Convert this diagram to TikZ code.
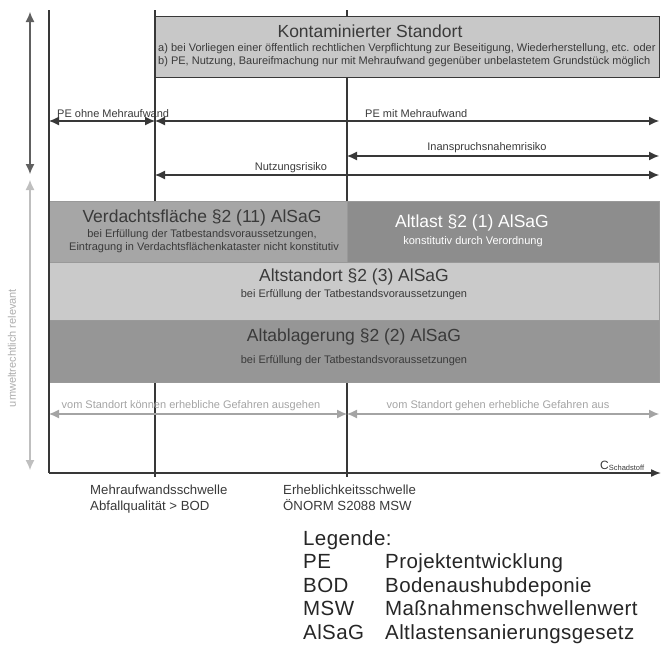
\documentclass[tikz,border=0pt]{standalone}
\usepackage{fontspec}
\setmainfont{Liberation Sans}
\usepackage{tikz}
\usetikzlibrary{positioning, arrows.meta}
\definecolor{linegray}{HTML}{383838}
\definecolor{textgray}{HTML}{3A3A3A}
\definecolor{palegray}{HTML}{A4A4A4}
\definecolor{kontgray}{HTML}{C8C8C8}
\definecolor{verdachtgray}{HTML}{A6A6A6}
\definecolor{altlastgray}{HTML}{8D8D8D}
\definecolor{standortgray}{HTML}{CACACA}
\definecolor{ablagerunggray}{HTML}{969696}
\tikzset{
	sep/.style={linegray, line width=1.2pt},
	axis/.style={linegray, line width=1.5pt},
	spanarrow/.style={linegray, line width=1.1pt, {Latex[length=10pt,width=9pt]}-{Latex[length=10pt,width=9pt]}},
	palespan/.style={palegray, line width=1.1pt, {Latex[length=10pt,width=9pt]}-{Latex[length=10pt,width=9pt]}},
	kbox/.style={draw=linegray, line width=1.2pt, fill=kontgray, anchor=north west, inner sep=0pt},
	row/.style={draw=gray!80, line width=.5pt, anchor=north west, inner sep=0pt},
	titletext/.style={textgray, inner sep=0pt, font={\fontsize{17.5}{20}\selectfont}},
	subtext/.style={textgray, inner sep=0pt, font={\fontsize{11}{13}\selectfont}},
	spantext/.style={textgray, inner sep=0pt, font={\fontsize{11}{13}\selectfont}},
	paletext/.style={palegray, inner sep=0pt, font={\fontsize{11}{13}\selectfont}},
	threshold/.style={textgray, inner sep=0pt, anchor=north west, align=left, font={\fontsize{13.2}{15.5}\selectfont}},
	legend/.style={black!85, inner sep=0pt, anchor=base west, font={\fontsize{20.5}{23}\selectfont\addfontfeatures{LetterSpace=2}}}
}

\begin{document}
\begin{tikzpicture}[x=1pt,y=-1pt]
\useasboundingbox (0,0) rectangle (661,646);
\coordinate (origin) at (49,473);
\coordinate (xend) at (661,473);
\coordinate (ytop) at (49,10);
\coordinate (mehrTop) at (155,10);
\coordinate (mehrBot) at (155,477);
\coordinate (erhTop) at (347,10);
\coordinate (erhBot) at (347,477);
\draw[sep] (mehrTop) -- (mehrBot);
\draw[sep] (erhTop) -- (erhBot);

% kontaminierter Standort
\node[kbox, minimum width=504, minimum height=61] (kont) at (155,16) {};
\node[titletext] (kontT) at (370,31) {Kontaminierter Standort};
\node[subtext, anchor=west] (kontA) at (158,49) {a) bei Vorliegen einer öffentlich rechtlichen Verpflichtung zur Beseitigung, Wiederherstellung, etc. oder};
\node[subtext, anchor=west] (kontB) at (158,62) {b) PE, Nutzung, Baureifmachung nur mit Mehraufwand gegenüber unbelastetem Grundstück möglich};

% Bereiche
\coordinate (peL) at (49,121);
\coordinate (peM) at (155,121);
\coordinate (peR) at (659,121);
\coordinate (insL) at (347,156);
\coordinate (insR) at (659,156);
\coordinate (nutzL) at (155,175);
\coordinate (nutzR) at (659,175);
\draw[spanarrow] (peL) -- (peM);
\draw[spanarrow] (peM) -- (peR);
\draw[spanarrow] (insL) -- (insR);
\draw[spanarrow] (nutzL) -- (nutzR);
\node[spantext, anchor=base west] (peOhne) at (57,117) {PE ohne Mehraufwand};
\node[spantext, anchor=base west] (peMit) at (365,117) {PE mit Mehraufwand};
\node[spantext, anchor=base] (insT) at (487,150) {Inanspruchsnahemrisiko};
\node[spantext, anchor=base] (nutzT) at (291,170) {Nutzungsrisiko};

% links
\coordinate (envTop) at (30,12);
\coordinate (envMid) at (30,174);
\coordinate (relTop) at (30,180);
\coordinate (relBot) at (30,470);
\draw[spanarrow, linegray!80] (envTop) -- (envMid);
\draw[palespan, palegray!70] (relTop) -- (relBot);
\node[paletext, palegray!90, rotate=90] (relT) at (12,348) {umweltrechtlich relevant};

% Flaechen
\node[row, fill=verdachtgray, minimum width=298, minimum height=61] (verdacht) at (49,201) {};
\node[row, fill=altlastgray, minimum width=312, minimum height=61] (altlast) at (347,201) {};
\node[row, fill=standortgray, minimum width=610, minimum height=58] (altstandort) at (49,262) {};
\node[row, fill=ablagerunggray, minimum width=610, minimum height=62] (altablagerung) at (49,320) {};
\node[titletext] (verdachtT) at (202,218) {Verdachtsfläche §2 (11) AlSaG};
\node[subtext] (verdachtA) at (202,235) {bei Erfüllung der Tatbestandsvoraussetzungen,};
\node[subtext] (verdachtB) at (204,248) {Eintragung in Verdachtsflächenkataster nicht konstitutiv};
\node[titletext, white] (altlastT) at (472,223) {Altlast §2 (1) AlSaG};
\node[subtext, white] (altlastA) at (473,242) {konstitutiv durch Verordnung};
\node[titletext] (standortT) at (354,277) {Altstandort §2 (3) AlSaG};
\node[subtext] (standortA) at (354,295) {bei Erfüllung der Tatbestandsvoraussetzungen};
\node[titletext] (ablagerungT) at (354,337) {Altablagerung §2 (2) AlSaG};
\node[subtext] (ablagerungA) at (354,361) {bei Erfüllung der Tatbestandsvoraussetzungen};

% Gefahren
\coordinate (gefL) at (49,414);
\coordinate (gefM) at (347,414);
\coordinate (gefR) at (659,414);
\draw[palespan] (gefL) -- (gefM);
\draw[palespan] (gefM) -- (gefR);
\node[paletext, anchor=base] (gefKann) at (191,408) {vom Standort können erhebliche Gefahren ausgehen};
\node[paletext, anchor=base] (gefGeht) at (498,408) {vom Standort gehen erhebliche Gefahren aus};

% Achsen
\draw[axis] (ytop) -- (origin);
\draw[axis, -{Latex[length=10pt,width=8pt]}] (origin) -- (xend);
\node[textgray, inner sep=0pt, anchor=base west, font={\fontsize{12}{14}\selectfont}] (cS) at (600,469) {C\textsubscript{\fontsize{7.5}{8}\selectfont Schadstoff}};

% Schwellen
\node[threshold] (mehrT) at (90,485) {Mehraufwandsschwelle\\Abfallqualität > BOD};
\node[threshold] (erhT) at (283,485) {Erheblichkeitsschwelle\\ÖNORM S2088 MSW};

% Legende
\node[legend] (legende) at (303,545) {Legende:};
\foreach \abk/\lang [count=\i] in {PE/Projektentwicklung, BOD/Bodenaushubdeponie, MSW/Maßnahmenschwellenwert, AlSaG/Altlastensanierungsgesetz}{
	\node[legend] (abk\i) at (303,545+23.6*\i) {\abk};
	\node[legend] (lang\i) at (385,545+23.6*\i) {\lang};
}
\end{tikzpicture}
\end{document}
